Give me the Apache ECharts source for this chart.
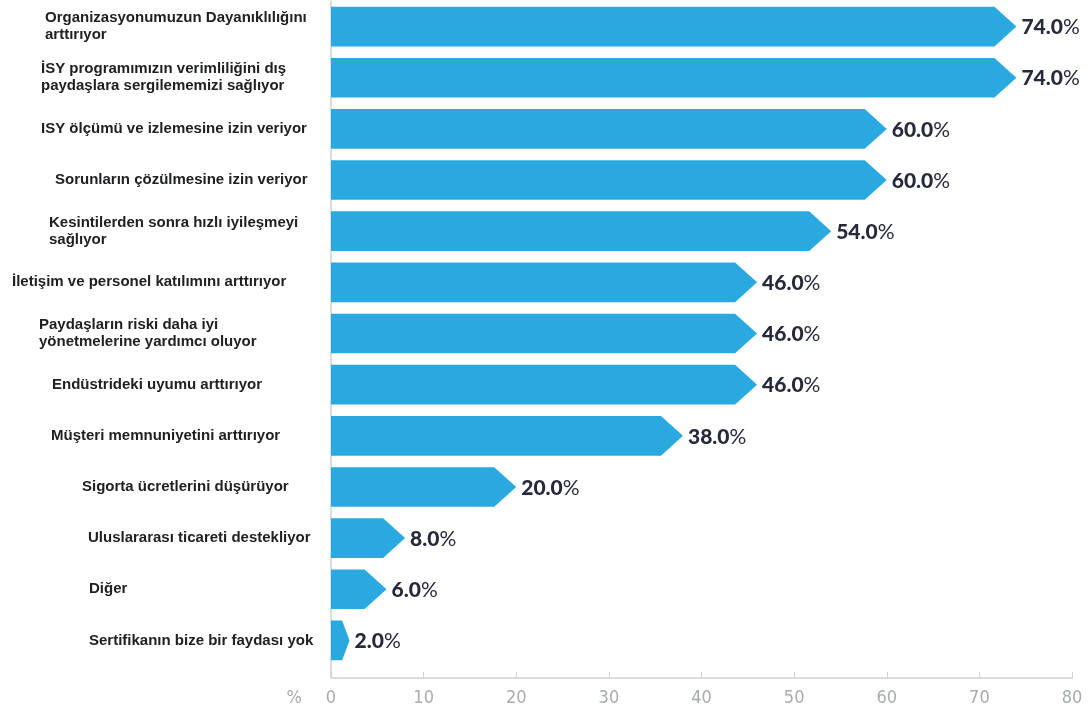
<!DOCTYPE html>
<html>
<head>
<meta charset="utf-8">
<script src="https://cdn.jsdelivr.net/npm/echarts@6/dist/echarts.min.js"></script>
<style>
  html, body { margin: 0; padding: 0; background: #ffffff; }
  #chart { width: 1089px; height: 708px; }
</style>
</head>
<body>
<div id="chart"></div>
<script>
// Survey answers: benefits of the certification (share of respondents, %)
const categories = [
  'Organizasyonumuzun Dayanıklılığını\narttırıyor',
  'İSY programımızın verimliliğini dış\npaydaşlara sergilememizi sağlıyor',
  'ISY ölçümü ve izlemesine izin veriyor',
  'Sorunların çözülmesine izin veriyor',
  'Kesintilerden sonra hızlı iyileşmeyi\nsağlıyor',
  'İletişim ve personel katılımını arttırıyor',
  'Paydaşların riski daha iyi\nyönetmelerine yardımcı oluyor',
  'Endüstrideki uyumu arttırıyor',
  'Müşteri memnuniyetini arttırıyor',
  'Sigorta ücretlerini düşürüyor',
  'Uluslararası ticareti destekliyor',
  'Diğer',
  'Sertifikanın bize bir faydası yok'
];
const values = [74, 74, 60, 60, 54, 46, 46, 46, 38, 20, 8, 6, 2];

// Left edge of each category label, in px from the chart's left border
const labelIndent = [45, 41, 41, 55, 49, 12, 39, 52, 51, 82, 88, 89, 89];

const GRID_LEFT = 331, GRID_RIGHT = 17, GRID_TOP = 1, GRID_BOTTOM = 42;
const AXIS_OFFSET = 12;
const BAR_COLOR = '#2aa9e0';
const AXIS_COLOR = '#cfd1d3';
const TICK_FONT = '"Liberation Sans Narrow", "DejaVu Sans Condensed", "Liberation Sans", sans-serif';

const chart = echarts.init(document.getElementById('chart'), null, { renderer: 'canvas' });

const rich = {};
labelIndent.forEach((ind, i) => {
  rich['r' + i] = {
    padding: [0, 0, 0, ind],
    fontFamily: '"Liberation Sans", Arial, sans-serif',
    fontWeight: 'bold',
    fontSize: 15,
    lineHeight: 17,
    color: '#202124'
  };
});

function renderArrowBar(params, api) {
  const idx = api.value(0);
  const val = api.value(1);
  const start = api.coord([0, idx]);
  const end = api.coord([val, idx]);
  const band = api.size([0, 1])[1];
  const h = band * 0.775;
  const x0 = start[0];
  const tip = end[0];
  const mid = end[1];
  const w = tip - x0;
  const head = Math.min(22, w * 0.4);
  const top = mid - h / 2, bot = mid + h / 2;
  const points = [
    [x0, top], [tip - head, top], [tip, mid], [tip - head, bot], [x0, bot]
  ];
  return {
    type: 'group',
    children: [
      {
        type: 'polygon',
        shape: { points: points },
        style: { fill: BAR_COLOR }
      },
      {
        type: 'text',
        style: {
          x: tip + 5,
          y: mid + 1,
          text: '{v|' + val.toFixed(1) + '}{p|%}',
          verticalAlign: 'middle',
          align: 'left',
          rich: {
            v: { fontFamily: 'Lato, "Open Sans", sans-serif', fontWeight: 900, fontSize: 21, fill: '#262a3b' },
            p: { fontFamily: 'Lato, "Open Sans", sans-serif', fontWeight: 'normal', fontSize: 21, fill: '#262a3b' }
          }
        }
      }
    ]
  };
}

const option = {
  backgroundColor: '#ffffff',
  animation: false,
  grid: {
    left: GRID_LEFT, right: GRID_RIGHT, top: GRID_TOP, bottom: GRID_BOTTOM,
    containLabel: false, outerBoundsMode: 'none'
  },
  xAxis: {
    type: 'value',
    min: 0,
    max: 80,
    interval: 10,
    offset: AXIS_OFFSET,
    name: '%',
    nameLocation: 'start',
    nameGap: 29,
    nameTextStyle: {
      color: '#a8abaf', fontSize: 18, fontFamily: TICK_FONT,
      verticalAlign: 'top', padding: [11, 0, 0, 0]
    },
    axisLine: { show: true, lineStyle: { color: AXIS_COLOR, width: 1.5 } },
    axisTick: { show: true, inside: true, length: 6, lineStyle: { color: AXIS_COLOR } },
    axisLabel: { color: '#a8abaf', fontSize: 18, margin: 11, fontFamily: TICK_FONT },
    splitLine: { show: false }
  },
  yAxis: {
    type: 'category',
    inverse: true,
    data: categories,
    axisLine: { show: true, lineStyle: { color: AXIS_COLOR, width: 1.5 } },
    axisTick: { show: false },
    axisLabel: {
      align: 'left',
      margin: GRID_LEFT,
      interval: 0,
      formatter: (text, i) => text.split('\n').map(l => '{r' + i + '|' + l + '}').join('\n'),
      rich: rich
    }
  },
  graphic: [
    {
      type: 'line',
      shape: { x1: GRID_LEFT, y1: 708 - GRID_BOTTOM, x2: GRID_LEFT, y2: 708 - GRID_BOTTOM + AXIS_OFFSET },
      style: { stroke: AXIS_COLOR, lineWidth: 1.5 }
    }
  ],
  series: [
    {
      type: 'custom',
      renderItem: renderArrowBar,
      encode: { x: 1, y: 0 },
      data: values.map((v, i) => [i, v])
    }
  ]
};

chart.setOption(option);
</script>
</body>
</html>
